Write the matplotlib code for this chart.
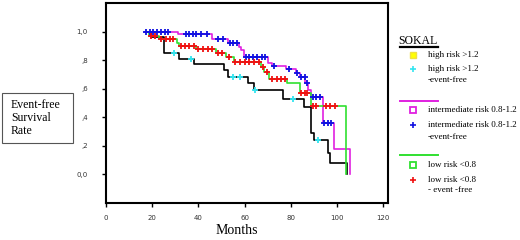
import numpy as np
import matplotlib.pyplot as plt
from matplotlib.lines import Line2D
from matplotlib.patches import Rectangle

# Kaplan-Meier step data (months, survival)
high_t = [18.5, 19.4, 25.0, 31.5, 38.0, 50.9, 52.7, 61.3, 63.9, 76.4, 85.5, 88.5, 89.8, 96.2, 97.1, 104.4]
high_s = [1.0, 0.96, 0.85, 0.81, 0.77, 0.73, 0.68, 0.64, 0.59, 0.53, 0.47, 0.29, 0.24, 0.15, 0.08, 0.0]
high_cens = [29.3, 36.7, 55.0, 58.0, 64.5, 81.0, 91.5]

mid_t = [17.0, 31.0, 46.0, 52.7, 57.4, 58.5, 59.6, 69.9, 72.0, 77.7, 82.0, 84.0, 86.3, 87.6, 88.5, 93.7, 98.8, 105.7]
mid_s = [1.0, 0.98, 0.95, 0.92, 0.89, 0.87, 0.82, 0.78, 0.76, 0.74, 0.71, 0.68, 0.64, 0.59, 0.54, 0.36, 0.18, 0.0]
mid_cens = [17.5, 19.0, 20.5, 22.0, 23.7, 25.5, 27.0, 34.5, 36.0, 37.5, 39.0, 41.0, 43.5, 48.5, 50.5,
            53.5, 55.0, 56.5, 60.5, 62.0, 63.5, 65.5, 67.5, 69.0, 72.5, 79.0, 82.5, 84.5, 86.0, 87.0,
            89.5, 91.0, 92.5, 94.5, 96.0, 97.5]

low_t = [18.0, 18.5, 23.0, 30.5, 31.5, 39.0, 47.5, 51.8, 55.2, 67.0, 68.5, 70.5, 78.5, 84.0, 88.5, 104.0]
low_s = [1.0, 0.97, 0.95, 0.92, 0.90, 0.88, 0.85, 0.82, 0.79, 0.75, 0.72, 0.67, 0.64, 0.57, 0.48, 0.0]
low_cens = [19.5, 21.0, 24.0, 26.0, 27.5, 29.0, 32.5, 34.0, 36.0, 38.0, 40.0, 42.0, 44.0, 46.0,
            48.5, 50.0, 53.0, 56.0, 58.0, 60.0, 62.0, 64.0, 66.0, 68.0, 69.5, 72.0, 74.0, 75.5, 77.5,
            84.5, 86.0, 87.0, 89.5, 91.0, 95.0, 97.0, 99.0]

groups = [
    ("high risk >1.2", high_t, high_s, high_cens, "black", "#33e5f0", "yellow"),
    ("intermediate risk 0.8-1.2", mid_t, mid_s, mid_cens, "#e020e0", "#1010e0", "#e020e0"),
    ("low risk <0.8", low_t, low_s, low_cens, "#30e030", "#f01010", "#30e030"),
]
event_free = ["-event-free", "-event-free", "- event -free"]

serif = "Liberation Serif"

fig = plt.figure(figsize=(5.2, 2.4), dpi=100)
W, H = 520, 240
ax = fig.add_axes([106 / W, 1 - 203 / H, (388 - 106) / W, (203 - 3) / H])

for name, t, s, cens, lc, mc, _ in groups:
    ax.step(t, s, where="post", color=lc, lw=1.2, zorder=2)
    # survival at censor time = last step value
    cy = [s[np.searchsorted(t, c, side="right") - 1] for c in cens]
    ax.plot(cens, cy, ls="none", marker="+", ms=4, mew=1.3, color=mc, zorder=3)

ax.set_xlim(0, 122)
ax.set_ylim(-0.2, 1.2)
ax.set_xticks([0, 20, 40, 60, 80, 100, 120])
ax.set_yticks([0, 0.2, 0.4, 0.6, 0.8, 1.0])
ax.set_yticklabels(["0,0", ",2", ",4", ",6", ",8", "1,0"])
ax.tick_params(labelsize=5, length=3, width=1, pad=6, colors="black", labelcolor="#333333")
ax.tick_params(axis="y", pad=10)
for sp in ax.spines.values():
    sp.set_linewidth(1.5)

# y label box
fig.patches.append(Rectangle((2 / W, 1 - 143 / H), 71 / W, 50 / H, transform=fig.transFigure,
                             fill=False, edgecolor="#555555", lw=0.8))
fig.text(11 / W, 1 - 118 / H, "Event-free\nSurvival\nRate", ha="left", va="center",
         fontsize=8.5, family=serif, linespacing=1.1)

fig.text(237 / W, 1 - 230 / H, "Months", ha="center", va="center", fontsize=10, family=serif)

# legend drawn by hand
fig.text(398 / W, 1 - 41 / H, "SOKAL", ha="left", va="center", fontsize=8.5, family=serif)
fig.lines.append(Line2D([400 / W, 438 / W], [1 - 47 / H] * 2, transform=fig.transFigure,
                        color="black", lw=1.6))

mx, tx = 413 / W, 428 / W
rows = [(55, 69, 80, None), (110, 125, 137, 101), (165, 180, 190, 155)]
for (name, t, s, cens, lc, mc, sq), (y1, y2, y3, yl), ef in zip(groups, rows, event_free):
    if yl is not None:
        fig.lines.append(Line2D([400 / W, 438 / W], [1 - yl / H] * 2, transform=fig.transFigure,
                                color=lc, lw=1.4))
    if sq == "yellow":
        fig.lines.append(Line2D([mx], [1 - y1 / H], transform=fig.transFigure, marker="s",
                                ms=4, color="yellow", mec="#f0e040", ls="none"))
    else:
        fig.lines.append(Line2D([mx], [1 - y1 / H], transform=fig.transFigure, marker="s",
                                ms=4, mfc="none", mec=sq, mew=1.3, ls="none"))
    fig.lines.append(Line2D([mx], [1 - y2 / H], transform=fig.transFigure, marker="+",
                            ms=4.5, mew=1.2, color=mc, ls="none"))
    fig.text(tx, 1 - y1 / H, name, ha="left", va="center", fontsize=6.5, family=serif)
    fig.text(tx, 1 - y2 / H, name, ha="left", va="center", fontsize=6.5, family=serif)
    fig.text(tx, 1 - y3 / H, ef, ha="left", va="center", fontsize=6.5, family=serif)

fig.savefig("out.png", dpi=100)
